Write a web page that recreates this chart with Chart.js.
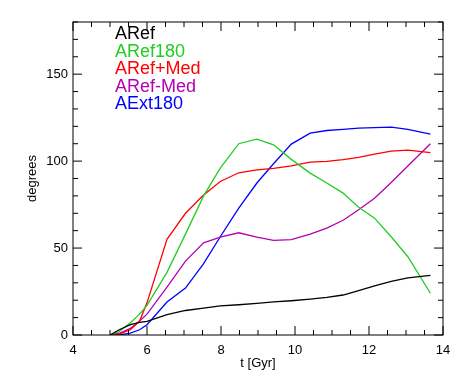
<!DOCTYPE html>
<html>
<head>
  <meta charset="utf-8" />
  <script src="https://cdn.jsdelivr.net/npm/chart.js@4.4.1/dist/chart.umd.min.js"></script>
  <style>
    body{margin:0;background:#fff;}
    #wrap{width:463px;height:382px;position:relative;}
  </style>
</head>
<body>
<div id="wrap"><canvas id="c" width="463" height="382"></canvas></div>
<script>
// time snapshots (Gyr)
const times = [5.0, 5.25, 5.55, 5.8, 6.0, 6.54, 7.04, 7.53, 7.98, 8.48, 8.97, 9.42, 9.9, 10.41, 10.86, 11.3, 11.72, 12.15, 12.6, 13.05, 13.66];

const aRef      = [0, 3, 6, 7.3, 7.8, 11.7, 14.1, 15.5, 16.7, 17.4, 18.2, 19.0, 19.7, 20.6, 21.6, 23.0, 25.5, 28.2, 30.9, 32.8, 34.3];
const aRef180   = [0, 2, 7, 12, 17, 36, 58, 80, 96, 110, 112.6, 109.4, 101, 93.1, 87.4, 81.6, 73.5, 67.2, 56.5, 45, 24];
const aRefPMed  = [0, 0.5, 3, 8, 18.5, 55, 70, 80.5, 88.3, 93.3, 95, 95.8, 97.3, 99.4, 99.8, 100.8, 102.2, 104, 105.8, 106.3, 104.9];
const aRefMMed  = [0, 1, 3.8, 8, 12, 27.5, 42.5, 53, 56.3, 58.8, 56.3, 54.4, 54.8, 58, 61.5, 66, 72, 78.7, 87.7, 97.2, 110];
const aExt180   = [0, 0, 1.1, 3, 5.9, 19, 27, 41, 56.5, 73, 87.4, 98.5, 109.8, 116.1, 117.6, 118.3, 119, 119.3, 119.5, 118.3, 115.5];

const seriesNames  = ['ARef', 'ARef180', 'ARef+Med', 'ARef-Med', 'AExt180'];
const seriesValues = [aRef, aRef180, aRefPMed, aRefMMed, aExt180];
const seriesColors = ['#000000', '#22cc22', '#ff0000', '#b400b4', '#0000ff'];

const xTicks = [4, 6, 8, 10, 12, 14];
const yTicks = [0, 50, 100, 150];

const FONT = '"Liberation Sans", Arial, sans-serif';

const datasets = seriesNames.map((name, i) => ({
  label: name,
  data: times.map((t, j) => ({ x: t, y: seriesValues[i][j] })),
  borderColor: seriesColors[i],
  borderWidth: 1.3,
  pointRadius: 0,
  tension: 0,
  fill: false
}));

// frame, inward tick marks, legend text and axis titles
const framePlugin = {
  id: 'frame',
  afterDraw(chart){
    const ctx = chart.ctx, a = chart.chartArea;
    const xs = chart.scales.x, ys = chart.scales.y;
    ctx.save();
    ctx.strokeStyle = '#000';
    ctx.lineWidth = 1;
    ctx.strokeRect(a.left, a.top, a.right - a.left, a.bottom - a.top);

    // x ticks: major every 2, minor every 0.5
    for(let v = 4; v <= 14.001; v += 0.5){
      const px = xs.getPixelForValue(v);
      const len = (Math.abs(v % 2) < 1e-6) ? 9 : 5;
      ctx.beginPath();
      ctx.moveTo(px, a.bottom); ctx.lineTo(px, a.bottom - len);
      ctx.moveTo(px, a.top); ctx.lineTo(px, a.top + len);
      ctx.stroke();
    }
    // y ticks: major every 50, minor every 10
    for(let v = 0; v <= 180; v += 10){
      const py = ys.getPixelForValue(v);
      const len = (v % 50 === 0) ? 9 : 5;
      ctx.beginPath();
      ctx.moveTo(a.left, py); ctx.lineTo(a.left + len, py);
      ctx.moveTo(a.right, py); ctx.lineTo(a.right - len, py);
      ctx.stroke();
    }

    // legend as coloured text
    ctx.font = '18px ' + FONT;
    ctx.textAlign = 'left';
    ctx.textBaseline = 'alphabetic';
    chart.data.datasets.forEach((d, i) => {
      ctx.fillStyle = d.borderColor;
      ctx.fillText(d.label, 115, 39.3 + i * 17.4);
    });

    // axis titles
    ctx.fillStyle = '#000';
    ctx.font = '13px ' + FONT;
    ctx.textAlign = 'center';
    ctx.textBaseline = 'middle';
    ctx.fillText('t [Gyr]', (a.left + a.right) / 2, 363);
    ctx.translate(32, (a.top + a.bottom) / 2);
    ctx.rotate(-Math.PI / 2);
    ctx.fillText('degrees', 0, 0);
    ctx.restore();
  }
};

new Chart(document.getElementById('c'), {
  type: 'line',
  data: { datasets },
  options: {
    responsive: false,
    animation: false,
    layout: { padding: { top: 22, right: 20, left: 0, bottom: 0 } },
    plugins: { legend: { display: false }, tooltip: { enabled: false } },
    scales: {
      x: {
        type: 'linear', min: 4, max: 14,
        grid: { display: false, drawTicks: false },
        border: { display: false },
        afterBuildTicks: s => { s.ticks = xTicks.map(v => ({ value: v })); },
        afterFit: s => { s.height = 47; },
        ticks: { color: '#000', padding: 8, maxRotation: 0, font: { family: FONT, size: 13 } }
      },
      y: {
        type: 'linear', min: 0, max: 180,
        grid: { display: false, drawTicks: false },
        border: { display: false },
        afterBuildTicks: s => { s.ticks = yTicks.map(v => ({ value: v })); },
        afterFit: s => { s.width = 73; },
        ticks: { color: '#000', padding: 5, font: { family: FONT, size: 13 } }
      }
    }
  },
  plugins: [framePlugin]
});
</script>
</body>
</html>
